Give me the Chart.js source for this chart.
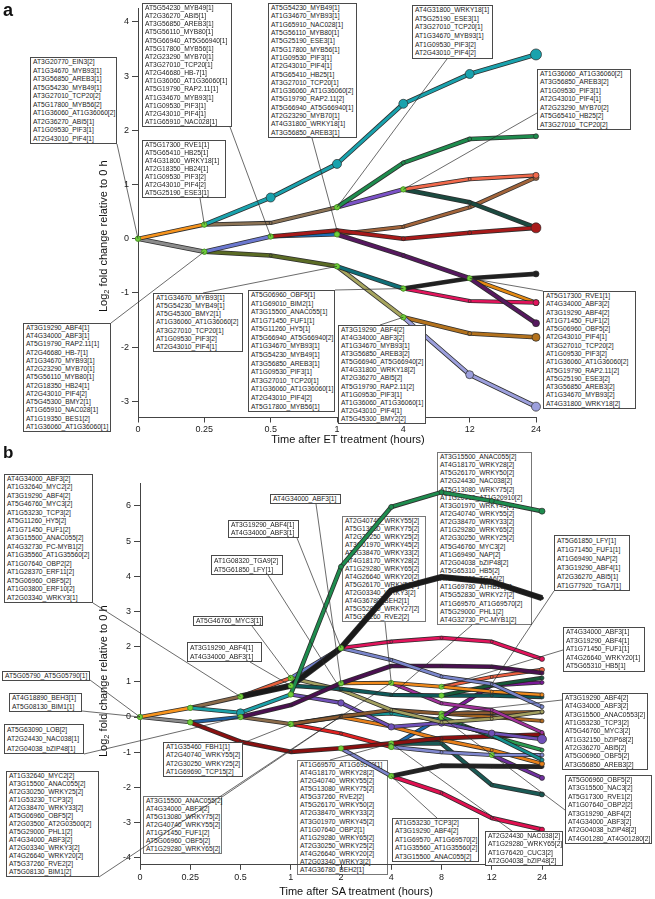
<!DOCTYPE html>
<html>
<head>
<meta charset="utf-8">
<script src="https://cdn.jsdelivr.net/npm/chart.js@4.4.1/dist/chart.umd.min.js"></script>
<style>
  body { margin: 0; background: #fff; font-family: "Liberation Sans", Arial, sans-serif; }
  #wrap { position: relative; width: 655px; height: 899px; overflow: hidden; }
  canvas { position: absolute; left: 0; z-index: 2; }
  .box { position: absolute; border: 1px solid #4a4a4a; background: #fff; font-size: 6.7px; color: #1a1a1a;
         padding: 0 0 0 2px; white-space: nowrap; box-sizing: border-box; z-index: 3; overflow: visible; }
  .box.under { background: transparent; border-color: #777; z-index: 1; }
  .lbl { position: absolute; font-weight: bold; z-index: 4; color: #111; }
  .xt { position: absolute; font-size: 11px; color: #111; z-index: 4; white-space: nowrap; transform: translateX(-50%); }
  .yt { position: absolute; font-size: 11px; color: #111; z-index: 4; white-space: nowrap; transform-origin: 0 0; transform: rotate(-90deg); }
  .yt sub { font-size: 7.5px; vertical-align: -2px; }
</style>
</head>
<body>
<div id="wrap">
  <canvas id="chartA" width="655" height="450" style="top:0"></canvas>
  <canvas id="chartB" width="655" height="449" style="top:450px"></canvas>
  <div class="lbl" style="left:3px;top:0px;font-size:18px">a</div>
  <div class="lbl" style="left:3px;top:443px;font-size:17px">b</div>
  <div class="xt" style="left:348px;top:433px">Time after ET treatment (hours)</div>
  <div class="xt" style="left:356px;top:885px">Time after SA treatment (hours)</div>
  <div class="yt" style="left:97px;top:312px">Log<sub>2</sub> fold change relative to 0 h</div>
  <div class="yt" style="left:97px;top:757px">Log<sub>2</sub> fold change relative to 0 h</div>
</div>
<script>
var N = null;

// ---- panel a : ET treatment ----
var timesA = ['0', '0.25', '0.5', '1', '4', '12', '24'];
var aOrange0     = [0, 0.26, N, N, N, N, N];
var aGray0       = [0, -0.24, N, N, N, N, N];
var aCyan        = [N, 0.26, 0.76, 1.38, 2.49, 3.04, 3.40];
var aTan         = [N, 0.26, 0.29, 0.58, N, N, N];
var aGreen       = [N, N, N, 0.58, 1.40, 1.84, 1.89];
var aPurple      = [N, N, N, 0.58, 0.91, N, N];
var aSalmon      = [N, N, N, N, 0.91, 1.10, 1.17];
var aSlate       = [N, N, N, N, 0.91, 0.67, 0.20];
var aLavBlue     = [N, -0.24, 0.04, N, N, N, N];
var aRed         = [N, N, 0.04, 0.15, 0.0, 0.11, 0.20];
var aBlue        = [N, N, 0.04, 0.08, N, N, N];
var aBrown       = [N, N, N, 0.08, 0.22, 0.58, 1.13];
var aDarkPurple  = [N, N, N, 0.08, -0.31, -0.73, -1.56];
var aOrange      = [N, N, N, N, N, -0.73, -1.18];
var aOlive       = [N, -0.24, -0.31, -0.51, N, N, N];
var aDarkTeal    = [N, N, N, -0.51, -0.92, N, N];
var aBlack       = [N, N, N, N, -0.92, -0.73, -0.65];
var aPink        = [N, N, N, N, -0.92, -1.15, -1.18];
var aKhaki       = [N, N, N, -0.51, -1.45, N, N];
var aBrownOrange = [N, N, N, N, -1.45, -1.75, -1.82];
var aLavender    = [N, N, N, N, -1.45, -2.51, -3.10];

// ---- panel b : SA treatment ----
var timesB = ['0', '0.25', '0.5', '1', '2', '4', '8', '12', '24'];
var bOrange0     = [0, 0.26, N, N, N, N, N, N, N];
var bGray0       = [0, -0.15, N, N, N, N, N, N, N];
var bTan         = [N, 0.26, 0.58, N, N, N, N, N, N];
var bTeal        = [N, 0.26, 0.12, 0.64, N, N, N, N, N];
var bSalmon      = [N, N, 0.58, 1.11, N, N, N, N, N];
var bBlack       = [N, N, 0.58, 0.89, 1.96, 3.60, 3.98, 3.84, 3.38];
var bLavBlue     = [N, N, N, 1.11, 1.96, N, N, N, N];
var bPink        = [N, N, N, N, 1.96, 2.14, 2.25, 2.14, 1.65];
var bPeri        = [N, N, N, N, 1.96, 1.62, 1.15, 0.94, 0.29];
var bGreen       = [N, N, N, 0.64, 4.27, 5.97, 6.39, 6.14, 5.85];
var bOlive       = [N, N, N, 1.11, 0.77, 0.20, -0.15, -0.05, 0.15];
var bDarkTeal    = [N, N, N, 0.89, 0.80, 0.63, 0.61, 0.61, 0.57];
var bDarkPurple  = [N, N, 0.0, 0.34, 0.96, 1.45, 1.45, 1.43, 1.25];
var bOrange      = [N, N, N, N, 0.96, 0.97, 0.86, 0.72, 0.63];
var bSalmon2     = [N, N, N, N, N, N, 0.86, 1.14, 1.34];
var bDarkGreen   = [N, N, N, N, N, N, 0.61, 0.90, 1.11];
var bMagenta     = [N, N, N, N, N, 0.97, 0.39, 0.20, -0.44];
var bPurple      = [N, N, N, 0.64, 0.40, -0.28, -0.17, -0.46, -0.63];
var bBlue        = [N, -0.15, 0.0, N, N, N, N, N, N];
var bDarkRed     = [N, -0.15, -0.70, -0.99, -0.89, -0.75, -0.60, -0.55, -0.50];
var bTan2        = [N, N, 0.0, -0.20, N, N, N, N, N];
var bBrown       = [N, N, N, -0.20, 0.01, 0.20, 0.10, 0.12, 0.14];
var bTeal2       = [N, N, N, -0.20, 0.03, 0.10, -0.09, -0.51, -1.22];
var bOrange2     = [N, N, N, -0.20, 0.0, -0.27, -0.65, -0.94, -1.33];
var bRed         = [N, N, N, -0.20, -0.47, -0.85, N, N, N];
var bBlue2       = [N, N, N, N, N, -0.85, 0.0, N, N];
var bViolet      = [N, N, N, N, N, N, 0.0, 0.90, 0.98];
var bGreen2      = [N, N, N, N, N, N, 0.0, -0.55, -0.94];
var bLavender    = [N, N, N, N, -0.89, -1.68, N, N, N];
var bBlack2      = [N, N, N, N, N, -1.68, -1.38, -1.40, -1.41];
var bPink2       = [N, N, N, N, N, -1.68, -2.16, -2.87, -3.20];
var bDarkTeal2   = [N, N, N, N, N, -0.75, -0.75, -1.93, -2.20];
var bLavender2   = [N, N, N, N, N, -0.85, -1.00, -1.08, -1.08];
var bViolet2     = [N, N, N, N, N, N, N, -1.08, -1.73];
var bBrownOrange = [N, N, N, N, N, N, 0.10, 0.0, -0.11];

// styles: [data, colour, line width, vertex dot radius, end dot radius]
var seriesA = [
  [aCyan, '#19a2ad', 3, 4.5, 5.5],
  [aGreen, '#1e8c4e', 3, 2, 2.5],
  [aRed, '#a81a1a', 3, 2, 5],
  [aLavender, '#9c9fdc', 3, 4, 4.5],
  [aBrownOrange, '#b3721d', 3, 2, 4],
  [aDarkPurple, '#56185f', 3.2, 2, 3.5],
  [aBlack, '#202020', 3, 2, 3],
  [aPink, '#e2145c', 2.6, 1.5, 3],
  [aOrange, '#e58a12', 2.6, 1.5, 3],
  [aSalmon, '#f2694b', 2.6, 1.5, 3],
  [aSlate, '#1b4a40', 3.2, 2, 3.5],
  [aBrown, '#a2643a', 2.6, 1.5, 3],
  [aPurple, '#7b52c7', 3, 1.5, 0],
  [aTan, '#8c7355', 2.6, 1.5, 0],
  [aBlue, '#1e6eb4', 2.6, 1.5, 0],
  [aLavBlue, '#6b78d0', 3, 1.5, 0],
  [aOlive, '#5b6b25', 3, 1.5, 0],
  [aDarkTeal, '#0f6f78', 3, 1.5, 0],
  [aKhaki, '#a6a45e', 3, 1.5, 0],
  [aOrange0, '#f7941d', 2.6, 1.5, 0],
  [aGray0, '#8c8c8c', 3, 1.5, 0]
];
var seriesB = [
  [bGreen, '#1e8c4e', 3, 2.5, 3],
  [bBlack, '#1a1a1a', 4.5, 1, 1.5],
  [bPink, '#e2145c', 2.6, 1.5, 2.5],
  [bPeri, '#7a86cc', 2.6, 1.5, 2],
  [bDarkPurple, '#4a1050', 3, 1.5, 2],
  [bOrange, '#f08a1c', 2.4, 1.5, 2],
  [bSalmon2, '#ee6040', 2.4, 1.5, 2.5],
  [bDarkGreen, '#175a3a', 2.6, 1.5, 2],
  [bDarkTeal, '#0f5a5a', 2.8, 1.5, 2],
  [bMagenta, '#a0309a', 2.4, 1.5, 2],
  [bViolet, '#7a1a96', 2.6, 1.5, 2],
  [bOlive, '#a3a060', 2.6, 1.5, 2],
  [bBrown, '#8a5a30', 2.6, 1.5, 2],
  [bBrownOrange, '#b06a20', 2.4, 1.5, 2],
  [bPurple, '#7050b8', 2.6, 3.2, 4.5],
  [bTeal2, '#159090', 2.6, 1.5, 2],
  [bGreen2, '#2a9a50', 2.6, 1.5, 2],
  [bDarkRed, '#8a1010', 3, 1.5, 2.5],
  [bLavender2, '#8088d0', 2.6, 1.5, 2],
  [bOrange2, '#e8801a', 2.6, 1.5, 2.5],
  [bBlack2, '#222222', 3.2, 1.5, 2],
  [bViolet2, '#7030a0', 2.6, 1.5, 2.5],
  [bDarkTeal2, '#1a5a55', 3, 1.5, 2.5],
  [bPink2, '#e01050', 3, 1.5, 2.5],
  [bBlue2, '#1e6eb4', 2.6, 1.5, 0],
  [bRed, '#e02020', 2.6, 1.5, 0],
  [bLavender, '#7c84cc', 2.6, 1.5, 0],
  [bLavBlue, '#6f7fcc', 2.6, 1.5, 0],
  [bSalmon, '#e8603c', 2.6, 1.5, 0],
  [bTeal, '#1aa0a8', 2.6, 4, 0],
  [bTan, '#8b6b4a', 2.6, 1.5, 0],
  [bTan2, '#8b6b4a', 2.6, 1.5, 0],
  [bBlue, '#2060a0', 2.6, 1.5, 0],
  [bOrange0, '#f7941d', 2.6, 1.5, 0],
  [bGray0, '#8c8c8c', 2.6, 1.5, 0]
];

// label boxes: [left, top, width, height, lines, under?]
var boxesA = [
  [30, 57, 87, 87, ['AT3G20770_EIN3[2]', 'AT1G34670_MYB93[1]', 'AT3G56850_AREB3[1]', 'AT5G54230_MYB49[1]', 'AT3G27010_TCP20[2]', 'AT5G17800_MYB56[2]', 'AT1G36060_AT1G36060[2]', 'AT2G36270_ABI5[1]', 'AT1G09530_PIF3[1]', 'AT2G43010_PIF4[1]']],
  [142, 3, 90, 124, ['AT5G54230_MYB49[1]', 'AT2G36270_ABI5[1]', 'AT3G56850_AREB3[1]', 'AT5G56110_MYB80[1]', 'AT5G66940_AT5G66940[1]', 'AT5G17800_MYB56[1]', 'AT2G23290_MYB70[1]', 'AT3G27010_TCP20[1]', 'AT2G46680_HB-7[1]', 'AT1G36060_AT1G36060[1]', 'AT5G19790_RAP2.11[1]', 'AT1G34670_MYB93[1]', 'AT1G09530_PIF3[1]', 'AT2G43010_PIF4[1]', 'AT1G65910_NAC028[1]']],
  [142, 140, 84, 58, ['AT5G17300_RVE1[1]', 'AT5G65410_HB25[1]', 'AT4G31800_WRKY18[1]', 'AT2G18350_HB24[1]', 'AT1G09530_PIF3[2]', 'AT2G43010_PIF4[2]', 'AT5G25190_ESE3[1]']],
  [268, 3, 89, 135, ['AT5G54230_MYB49[1]', 'AT1G34670_MYB93[1]', 'AT1G65910_NAC028[1]', 'AT5G56110_MYB80[1]', 'AT5G25190_ESE3[1]', 'AT5G17800_MYB56[1]', 'AT1G09530_PIF3[1]', 'AT2G43010_PIF4[1]', 'AT5G65410_HB25[1]', 'AT3G27010_TCP20[1]', 'AT1G36060_AT1G36060[2]', 'AT5G19790_RAP2.11[2]', 'AT5G66940_AT5G66940[1]', 'AT2G23290_MYB70[1]', 'AT4G31800_WRKY18[1]', 'AT3G56850_AREB3[1]']],
  [412, 5, 81, 54, ['AT4G31800_WRKY18[1]', 'AT5G25190_ESE3[1]', 'AT3G27010_TCP20[1]', 'AT1G34670_MYB93[1]', 'AT1G09530_PIF3[2]', 'AT2G43010_PIF4[2]']],
  [537, 69, 94, 61, ['AT1G36060_AT1G36060[2]', 'AT3G56850_AREB3[2]', 'AT1G09530_PIF3[1]', 'AT2G43010_PIF4[1]', 'AT2G23290_MYB70[2]', 'AT5G65410_HB25[2]', 'AT3G27010_TCP20[2]']],
  [23, 323, 88, 109, ['AT3G19290_ABF4[1]', 'AT4G34000_ABF3[1]', 'AT5G19790_RAP2.11[1]', 'AT2G46680_HB-7[1]', 'AT1G34670_MYB93[1]', 'AT2G23290_MYB70[1]', 'AT5G56110_MYB80[1]', 'AT2G18350_HB24[1]', 'AT2G43010_PIF4[2]', 'AT5G45300_BMY2[1]', 'AT1G65910_NAC028[1]', 'AT1G19350_BES1[2]', 'AT1G36060_AT1G36060[1]']],
  [153, 293, 90, 59, ['AT1G34670_MYB93[1]', 'AT5G54230_MYB49[1]', 'AT5G45300_BMY2[1]', 'AT1G36060_AT1G36060[2]', 'AT3G27010_TCP20[1]', 'AT1G09530_PIF3[2]', 'AT2G43010_PIF4[1]']],
  [248, 290, 87, 122, ['AT5G06960_OBF5[1]', 'AT1G69010_BIM2[1]', 'AT3G15500_ANAC055[1]', 'AT1G71450_FUF1[1]', 'AT5G11260_HY5[1]', 'AT5G66940_AT5G66940[2]', 'AT1G34670_MYB93[1]', 'AT5G54230_MYB49[1]', 'AT3G56850_AREB3[1]', 'AT1G09530_PIF3[1]', 'AT3G27010_TCP20[1]', 'AT1G36060_AT1G36060[1]', 'AT2G43010_PIF4[2]', 'AT5G17800_MYB56[1]']],
  [543, 291, 93, 118, ['AT5G17300_RVE1[1]', 'AT4G34000_ABF3[2]', 'AT3G19290_ABF4[2]', 'AT1G71450_FUF1[2]', 'AT5G06960_OBF5[2]', 'AT2G43010_PIF4[1]', 'AT3G27010_TCP20[2]', 'AT1G09530_PIF3[2]', 'AT1G36060_AT1G36060[2]', 'AT5G19790_RAP2.11[2]', 'AT5G25190_ESE3[2]', 'AT3G56850_AREB3[2]', 'AT1G34670_MYB93[2]', 'AT4G31800_WRKY18[2]']],
  [338, 325, 88, 99, ['AT3G19290_ABF4[2]', 'AT4G34000_ABF3[2]', 'AT1G34670_MYB93[1]', 'AT3G56850_AREB3[2]', 'AT5G66940_AT5G66940[2]', 'AT4G31800_WRKY18[2]', 'AT2G36270_ABI5[2]', 'AT5G19790_RAP2.11[2]', 'AT1G09530_PIF3[1]', 'AT1G36060_AT1G36060[1]', 'AT2G43010_PIF4[1]', 'AT5G45300_BMY2[2]']]
];
var boxesB = [
  [4, 474, 89, 129, ['AT4G34000_ABF3[2]', 'AT1G32640_MYC2[2]', 'AT3G19290_ABF4[2]', 'AT5G46760_MYC3[2]', 'AT1G53230_TCP3[2]', 'AT5G11260_HY5[2]', 'AT1G71450_FUF1[2]', 'AT3G15500_ANAC055[2]', 'AT4G32730_PC-MYB1[2]', 'AT1G35560_AT1G35560[2]', 'AT1G07640_OBP2[2]', 'AT1G28370_ERF11[2]', 'AT5G06960_OBF5[2]', 'AT1G03800_ERF10[2]', 'AT2G03340_WRKY3[1]']],
  [270, 494, 71, 10, ['AT4G34000_ABF3[1]']],
  [228, 520, 71, 18, ['AT3G19290_ABF4[1]', 'AT4G34000_ABF3[1]']],
  [211, 555, 72, 20, ['AT1G08320_TGA9[2]', 'AT5G61850_LFY[1]']],
  [193, 616, 70, 10, ['AT5G46760_MYC3[1]']],
  [187, 642, 75, 20, ['AT3G19290_ABF4[1]', 'AT4G34000_ABF3[1]']],
  [2, 671, 88, 10, ['AT5G05790_AT5G05790[1]']],
  [9, 693, 73, 19, ['AT4G18890_BEH3[1]', 'AT5G08130_BIM1[1]']],
  [4, 724, 80, 30, ['AT5G63090_LOB[2]', 'AT2G24430_NAC038[1]', 'AT2G04038_bZIP48[1]']],
  [163, 742, 80, 35, ['AT1G35460_FBH1[1]', 'AT2G40740_WRKY55[2]', 'AT2G30250_WRKY25[2]', 'AT1G69690_TCP15[2]']],
  [6, 771, 93, 106, ['AT1G32640_MYC2[2]', 'AT3G15500_ANAC055[2]', 'AT2G30250_WRKY25[2]', 'AT1G53230_TCP3[2]', 'AT2G38470_WRKY33[2]', 'AT5G06960_OBF5[2]', 'AT2G03500_AT2G03500[2]', 'AT5G29000_PHL1[2]', 'AT4G34000_ABF3[2]', 'AT2G03340_WRKY3[2]', 'AT4G26640_WRKY20[2]', 'AT5G37260_RVE2[2]', 'AT5G08130_BIM1[2]']],
  [143, 796, 79, 58, ['AT3G15500_ANAC055[2]', 'AT4G34000_ABF3[2]', 'AT5G13080_WRKY75[2]', 'AT2G40740_WRKY55[2]', 'AT1G71450_FUF1[2]', 'AT5G06960_OBF5[2]', 'AT1G29280_WRKY65[2]'], true],
  [297, 760, 91, 115, ['AT1G69570_AT1G69570[1]', 'AT4G18170_WRKY28[2]', 'AT2G40740_WRKY55[2]', 'AT5G13080_WRKY75[2]', 'AT5G37260_RVE2[2]', 'AT5G26170_WRKY50[2]', 'AT2G38470_WRKY33[2]', 'AT3G01970_WRKY45[2]', 'AT1G07640_OBP2[1]', 'AT1G29280_WRKY65[2]', 'AT2G30250_WRKY25[2]', 'AT4G26640_WRKY20[2]', 'AT2G03340_WRKY3[2]', 'AT4G36780_BEH2[1]'], true],
  [392, 818, 87, 44, ['AT1G53230_TCP3[2]', 'AT3G19290_ABF4[2]', 'AT1G69570_AT1G69570[2]', 'AT1G35560_AT1G35560[2]', 'AT3G15500_ANAC055[2]']],
  [485, 831, 78, 35, ['AT2G24430_NAC038[2]', 'AT1G29280_WRKY65[2]', 'AT1G76420_CUC3[2]', 'AT2G04038_bZIP48[2]']],
  [565, 775, 87, 69, ['AT5G06960_OBF5[2]', 'AT3G15500_NAC3[2]', 'AT5G17300_RVE1[2]', 'AT1G07640_OBP2[2]', 'AT3G19290_ABF4[2]', 'AT4G34000_ABF3[2]', 'AT2G04038_bZIP48[2]', 'AT4G01280_AT4G01280[2]']],
  [562, 693, 86, 77, ['AT3G19290_ABF4[2]', 'AT4G34000_ABF3[2]', 'AT3G15500_ANAC0553[2]', 'AT1G53230_TCP3[2]', 'AT5G46760_MYC3[2]', 'AT1G32150_bZIP68[2]', 'AT2G36270_ABI5[2]', 'AT5G06960_OBF5[2]', 'AT3G56850_AREB3[2]']],
  [563, 627, 82, 45, ['AT4G34000_ABF3[1]', 'AT3G19290_ABF4[1]', 'AT1G71450_FUF1[1]', 'AT4G26640_WRKY20[1]', 'AT5G65310_HB5[1]']],
  [554, 535, 76, 56, ['AT5G61850_LFY[1]', 'AT1G71450_FUF1[1]', 'AT1G69490_NAP[2]', 'AT3G19290_ABF4[1]', 'AT2G36270_ABI5[1]', 'AT1G77920_TGA7[1]']],
  [437, 452, 95, 173, ['AT3G15500_ANAC055[2]', 'AT4G18170_WRKY28[2]', 'AT5G26170_WRKY50[2]', 'AT2G24430_NAC038[2]', 'AT5G13080_WRKY75[2]', 'AT1G20910_AT1G20910[2]', 'AT3G01970_WRKY45[2]', 'AT2G40740_WRKY55[2]', 'AT2G38470_WRKY33[2]', 'AT1G29280_WRKY65[2]', 'AT2G30250_WRKY25[2]', 'AT5G46760_MYC3[2]', 'AT1G69490_NAP[2]', 'AT2G04038_bZIP48[2]', 'AT5G65310_HB5[2]', 'AT3G12250_TGA6[2]', 'AT1G69780_ATHB13[2]', 'AT5G52830_WRKY27[2]', 'AT1G69570_AT1G69570[2]', 'AT5G29000_PHL1[2]', 'AT4G32730_PC-MYB1[2]'], true],
  [342, 516, 84, 106, ['AT2G40740_WRKY55[2]', 'AT5G13080_WRKY75[2]', 'AT2G30250_WRKY25[2]', 'AT3G01970_WRKY45[2]', 'AT2G38470_WRKY33[2]', 'AT4G18170_WRKY28[2]', 'AT1G29280_WRKY65[2]', 'AT4G26640_WRKY20[2]', 'AT5G26170_WRKY50[2]', 'AT2G03340_WRKY3[2]', 'AT4G36780_BEH2[1]', 'AT5G52830_WRKY27[2]', 'AT5G37260_RVE2[2]'], true]
];

// leader lines: [box anchor x, box anchor y (page), time index, value]
var leadersA = [
  [117, 144, 0, 0], [230, 127, 2, 0.04], [200, 198, 1, 0.26], [312, 138, 3, 0.15],
  [447, 59, 3, 0.58], [537, 113, 4, 0.91], [111, 323, 1, -0.24], [203, 293, 3, -0.51],
  [335, 290, 4, -0.92], [543, 291, 5, -0.73], [380, 325, 4, -1.45]
];
var leadersB = [
  [93, 603, 2, 0.58], [316, 504, 4, 0.96], [297, 538, 4, 1.96], [268, 575, 4, 0.77],
  [252, 626, 3, 1.11], [250, 662, 3, 0.89], [90, 680, 0, 0], [82, 711, 0, 0],
  [84, 754, 2, 0.0], [243, 743, 3, -0.20], [99, 877, 5, 0.97], [222, 797, 4, 0.02],
  [330, 760, 5, -0.75], [437, 818, 5, -1.68], [512, 831, 5, -0.75], [565, 810, 6, 0.0],
  [562, 700, 6, 0.10], [563, 650, 6, 0.86], [554, 591, 7, 0.94], [472, 625, 5, 0.63],
  [385, 622, 5, 0.97]
];

Chart.defaults.font.family = '"Liberation Sans", Arial, sans-serif';

function addBoxes(list) {
  var wrap = document.getElementById('wrap');
  list.forEach(function (b) {
    var d = document.createElement('div');
    d.className = 'box' + (b[5] ? ' under' : '');
    d.style.left = b[0] + 'px';
    d.style.top = b[1] + 'px';
    d.style.width = b[2] + 'px';
    d.style.height = b[3] + 'px';
    d.style.lineHeight = ((b[3] - 2) / b[4].length) + 'px';
    d.innerHTML = b[4].join('<br>');
    wrap.appendChild(d);
  });
}

function buildDatasets(series) {
  var ds = [];
  series.forEach(function (s, k) {
    var data = s[0];
    var first = data.findIndex(function (v) { return v !== null; });
    var last = data.length - 1;
    while (data[last] === null) last--;
    var radii = data.map(function (v, i) {
      if (v === null || i === first) return 0;
      return i === last ? s[4] : s[3];
    });
    ds.push({
      data: data, borderColor: 'rgba(35,35,35,0.95)', borderWidth: s[2] + 1.6,
      pointRadius: 0, order: 2 * k + 1, borderJoinStyle: 'round'
    });
    ds.push({
      data: data, borderColor: s[1], borderWidth: s[2], order: 2 * k,
      pointRadius: radii, pointBackgroundColor: s[1], pointBorderColor: '#2a2a2a',
      pointBorderWidth: 0.7, borderJoinStyle: 'round', firstIdx: first
    });
  });
  return ds;
}

function overlay(leaders, topOffset) {
  return {
    id: 'overlay',
    afterDatasetsDraw: function (chart) {
      var ctx = chart.ctx, xs = chart.scales.x, ys = chart.scales.y;
      ctx.save();
      // green markers where a branch starts
      chart.data.datasets.forEach(function (d) {
        if (d.firstIdx === undefined) return;
        var px = xs.getPixelForValue(d.firstIdx), py = ys.getPixelForValue(d.data[d.firstIdx]);
        ctx.beginPath();
        ctx.arc(px, py, 2.6, 0, Math.PI * 2);
        ctx.fillStyle = '#6fcf3a';
        ctx.fill();
        ctx.lineWidth = 0.6;
        ctx.strokeStyle = '#3d7d1e';
        ctx.stroke();
      });
      // leader lines from the label boxes
      ctx.strokeStyle = '#2b2b2b';
      ctx.lineWidth = 0.7;
      leaders.forEach(function (l) {
        ctx.beginPath();
        ctx.moveTo(l[0], l[1] - topOffset);
        ctx.lineTo(xs.getPixelForValue(l[2]), ys.getPixelForValue(l[3]));
        ctx.stroke();
      });
      ctx.restore();
    }
  };
}

function makeChart(id, labels, series, leaders, cfg) {
  return new Chart(document.getElementById(id), {
    type: 'line',
    data: { labels: labels, datasets: buildDatasets(series) },
    options: {
      responsive: false, animation: false, devicePixelRatio: 1, events: [],
      layout: { padding: { left: 0, top: cfg.padTop, right: cfg.padRight, bottom: 0 } },
      elements: { line: { tension: 0 } },
      plugins: { legend: { display: false }, tooltip: { enabled: false } },
      scales: {
        x: {
          offset: false,
          grid: { display: true, drawOnChartArea: false, drawTicks: true, tickLength: 5, color: '#444' },
          border: { display: true, color: '#444', width: 1 },
          ticks: { autoSkip: false, maxRotation: 0, color: '#222', font: { size: 9 }, padding: 2 },
          afterFit: function (s) { s.height = cfg.xHeight; }
        },
        y: {
          min: cfg.min, max: cfg.max,
          grid: { display: true, drawOnChartArea: false, drawTicks: true, tickLength: 6, color: '#444' },
          border: { display: true, color: '#444', width: 1 },
          ticks: { stepSize: 1, includeBounds: false, color: '#222', font: { size: 9 }, padding: 3 },
          afterFit: function (s) { s.width = cfg.yWidth; }
        }
      }
    },
    plugins: [overlay(leaders, cfg.top)]
  });
}

addBoxes(boxesA);
addBoxes(boxesB);

makeChart('chartA', timesA, seriesA, leadersA,
  { top: 0, padTop: 2.25, padRight: 119, xHeight: 32.5, yWidth: 138, min: -3.3, max: 4.25 });
makeChart('chartB', timesB, seriesB, leadersB,
  { top: 450, padTop: 33, padRight: 113, xHeight: 34.2, yWidth: 140, min: -4.2, max: 6.65 });
</script>
</body>
</html>
